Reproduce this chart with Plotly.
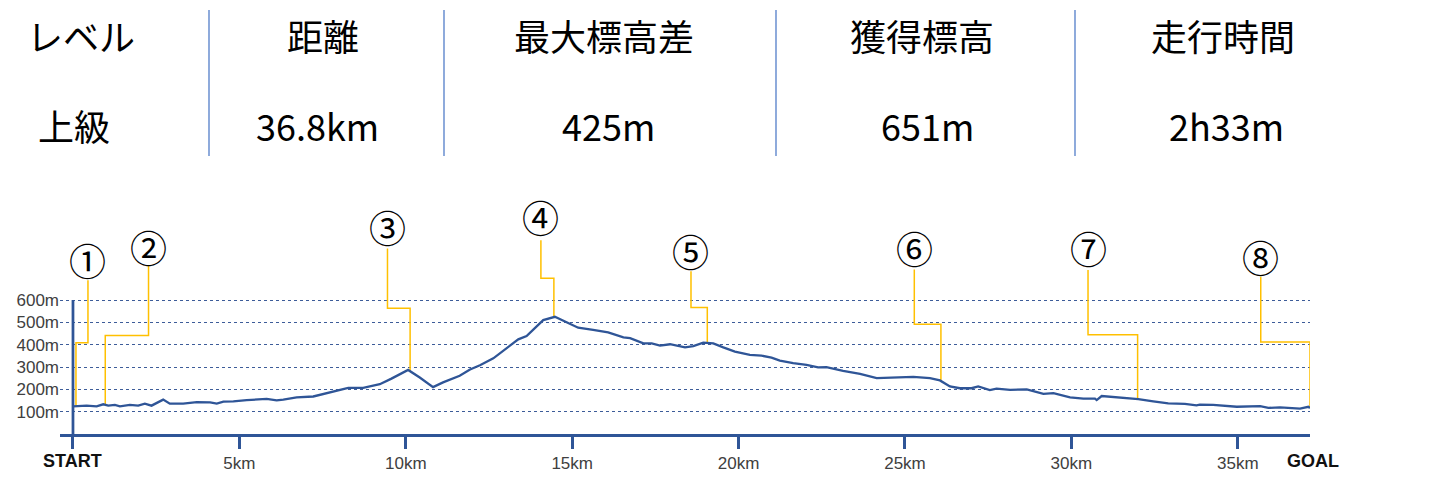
import numpy as np
import plotly.graph_objects as go

# ---------------- data ----------------
km = [0.0, 0.41, 0.71, 0.91, 1.06, 1.26, 1.41, 1.71, 1.96, 2.16, 2.36, 2.71, 2.91, 3.31, 3.72,
      4.12, 4.32, 4.52, 4.82, 5.22, 5.82, 6.12, 6.32, 6.72, 7.22, 7.72, 8.27, 8.72, 9.22, 9.57,
      10.07, 10.42, 10.82, 11.12, 11.62, 11.93, 12.23, 12.63, 13.03, 13.38, 13.63, 14.13, 14.48,
      14.83, 15.18, 15.63, 16.08, 16.54, 16.74, 17.14, 17.39, 17.64, 17.94, 18.39, 18.64, 18.94,
      19.24, 19.54, 19.89, 20.34, 20.69, 20.99, 21.24, 21.64, 22.04, 22.39, 22.64, 23.14, 23.65,
      24.15, 24.65, 25.25, 25.75, 26.05, 26.35, 26.65, 27.0, 27.2, 27.55, 27.75, 28.16, 28.66,
      29.16, 29.46, 29.96, 30.36, 30.71, 30.76, 30.91, 31.46, 32.01, 32.46, 32.91, 33.41, 33.76,
      33.86, 34.26, 34.97, 35.67, 35.92, 36.27, 36.87, 37.12, 37.17]
elev = [124, 127, 124, 133, 127, 130, 124, 130, 127, 136, 127, 154, 136, 136, 143,
        142, 136, 145, 146, 152, 157, 151, 154, 164, 168, 186, 207, 207, 223, 248,
        287, 253, 210, 231, 261, 289, 308, 339, 384, 424, 439, 510, 525,
        499, 476, 466, 455, 433, 429, 406, 406, 396, 402, 388, 394, 409,
        406, 388, 369, 354, 351, 342, 329, 317, 310, 298, 299, 283, 269,
        250, 252, 256, 250, 240, 213, 205, 205, 213, 197, 203, 198, 200,
        180, 183, 164, 158, 158, 152, 170, 162, 156, 146, 137, 135, 128,
        132, 130, 122, 125, 117, 119, 114, 122, 116]

x_tick_vals = [0, 5, 10, 15, 20, 25, 30, 35]
x_tick_text = ["", "5km", "10km", "15km", "20km", "25km", "30km", "35km"]
y_tick_vals = [100, 200, 300, 400, 500, 600]
y_tick_text = ["100m", "200m", "300m", "400m", "500m", "600m"]

# callouts
callout_labels = ["①", "②", "③", "④", "⑤", "⑥", "⑦", "⑧"]
label_km = [0.45, 2.27, 9.45, 14.06, 18.57, 25.28, 30.50, 35.69]
label_elev = [778, 838, 927, 972, 819, 831, 831, 791]
line_top_elev = [689, 753, 831, 868, 729, 737, 734, 704]
elbow_elev = [409, 441, 563, 698, 566, 491, 444, 412]
point_km = [0.09, 0.97, 10.13, 14.45, 19.06, 26.08, 31.99, 37.17]

# header table
header_titles = ["レベル", "距離", "最大標高差", "獲得標高", "走行時間"]
header_values = ["上級", "36.8km", "425m", "651m", "2h33m"]

# ---------------- layout constants ----------------
OFF = 8  # page body margin
W, H = 1442 - OFF, 485 - OFF
L, R, T, B = 60 - OFF, 1310 - OFF, 200 - OFF, 434 - OFF
X_RANGE = [-0.39, 37.17]
Y_RANGE = [0, 1048]
NAVY = "#2F5597"
YELLOW = "#FFC000"


def px_x(px):
    """reference-screenshot x pixel -> paper coordinate"""
    return (px - OFF - L) / (R - L)


def px_y(py):
    """reference-screenshot y pixel -> paper coordinate"""
    return (B - (py - OFF)) / (B - T)


fig = go.Figure()

# callout connectors
for i in range(len(callout_labels)):
    end_elev = float(np.interp(point_km[i], km, elev))
    fig.add_trace(go.Scatter(
        x=[label_km[i], label_km[i], point_km[i], point_km[i]],
        y=[line_top_elev[i], elbow_elev[i], elbow_elev[i], end_elev],
        mode="lines", line=dict(color=YELLOW, width=1.5),
        hoverinfo="skip", showlegend=False, cliponaxis=False))
    fig.add_annotation(x=label_km[i], y=label_elev[i], xref="x", yref="y",
                       text=callout_labels[i], showarrow=False,
                       font=dict(family="Noto Sans CJK JP", size=37, color="#000000"),
                       xanchor="center", yanchor="middle")

# profile
fig.add_trace(go.Scatter(x=km, y=elev, mode="lines",
                         line=dict(color=NAVY, width=2.3),
                         hoverinfo="skip", showlegend=False))

# y axis line (only up to 600m)
fig.add_shape(type="line", xref="x", yref="y", x0=0, x1=0, y0=0, y1=max(y_tick_vals),
              line=dict(color=NAVY, width=2.75), layer="above")

# START / GOAL
fig.add_annotation(x=0, y=px_y(461), xref="x", yref="paper", text="<b>START</b>",
                   showarrow=False, font=dict(family="Liberation Sans", size=18, color="#111111"),
                   xanchor="center", yanchor="middle")
fig.add_annotation(x=px_x(1313), y=px_y(461), xref="paper", yref="paper", text="<b>GOAL</b>",
                   showarrow=False, font=dict(family="Liberation Sans", size=18, color="#111111"),
                   xanchor="center", yanchor="middle")

# header
title_cx = [81, 323, 604, 922, 1223]
value_cx = [74, 317, 608, 927, 1226]
for i in range(len(header_titles)):
    fig.add_annotation(x=px_x(title_cx[i]), y=px_y(35), xref="paper", yref="paper",
                       text=header_titles[i], showarrow=False,
                       font=dict(family="Noto Sans CJK JP", size=36, color="#000000"),
                       xanchor="center", yanchor="middle")
    fig.add_annotation(x=px_x(value_cx[i]), y=px_y(125), xref="paper", yref="paper",
                       text=header_values[i], showarrow=False,
                       font=dict(family="Noto Sans CJK JP", size=36, color="#000000"),
                       xanchor="center", yanchor="middle")
for sx in [209, 444, 776, 1075]:
    fig.add_shape(type="line", xref="paper", yref="paper", x0=px_x(sx), x1=px_x(sx),
                  y0=px_y(10), y1=px_y(156), line=dict(color="#4472C4", width=1.2))

fig.update_layout(
    width=W, height=H,
    margin=dict(l=L, r=W - R, t=T, b=H - B, autoexpand=False),
    paper_bgcolor="white", plot_bgcolor="white",
    xaxis=dict(range=X_RANGE, tickvals=x_tick_vals, ticktext=x_tick_text, automargin=False,
               showgrid=False, zeroline=False, showline=True, linecolor=NAVY, linewidth=2.75,
               ticks="outside", ticklen=12, tickwidth=2.75, tickcolor=NAVY,
               tickfont=dict(family="Liberation Sans", size=17, color="#404040")),
    yaxis=dict(range=Y_RANGE, tickvals=y_tick_vals, ticktext=y_tick_text, automargin=False,
               showgrid=True, gridcolor="#3d5c99", griddash="dot", gridwidth=1,
               zeroline=False, showline=False, ticks="",
               tickfont=dict(family="Liberation Sans", size=17, color="#404040")),
    showlegend=False,
)

fig.write_html("out.html")
